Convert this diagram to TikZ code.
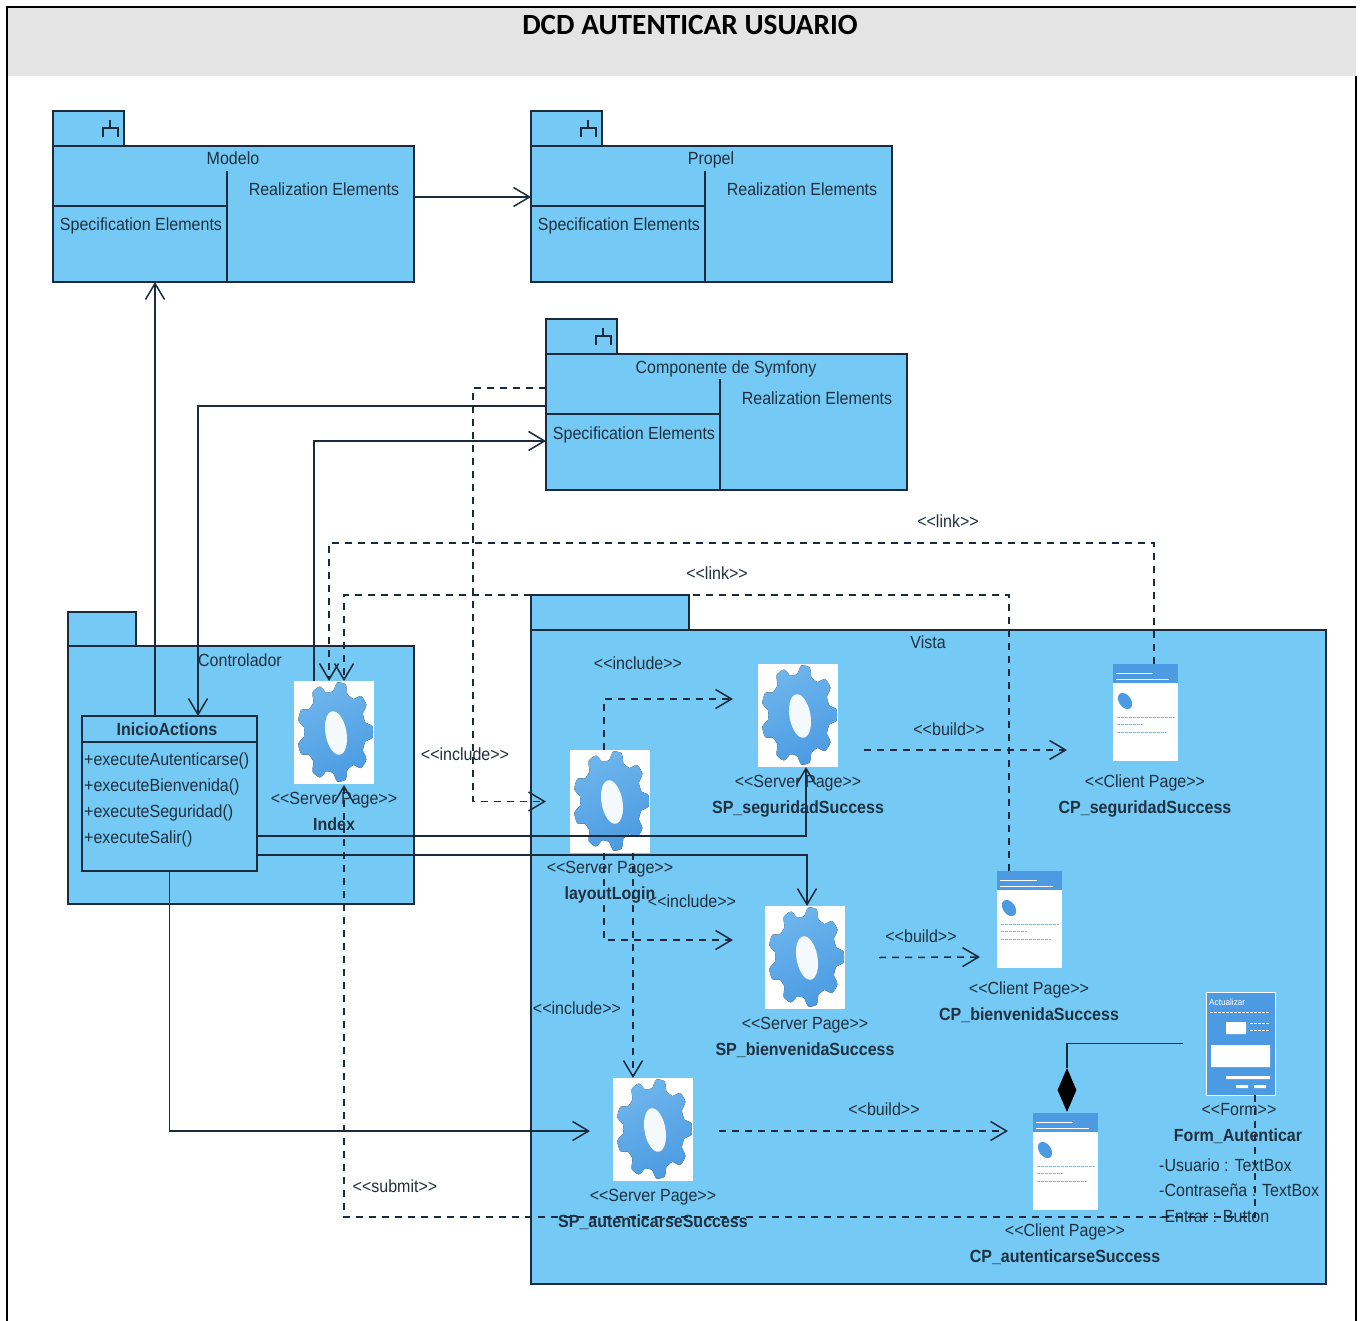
\documentclass[tikz,border=0pt]{standalone}
\usepackage{fontspec}
\setmainfont[FakeStretch=0.91]{Liberation Sans}
\newfontfamily\titlefont{Carlito}
\usetikzlibrary{arrows.meta,shapes.geometric}
\definecolor{pkgblue}{HTML}{74CAF4}
\definecolor{inkline}{HTML}{1B2A3C}
\definecolor{inktext}{HTML}{1F3040}
\definecolor{gearlight}{HTML}{6DB5EC}
\definecolor{geardark}{HTML}{4C9BE2}
\definecolor{headgray}{HTML}{E4E4E4}
\tikzset{
        pkgbody/.style={draw=inkline, fill=pkgblue, line width=1.5pt, anchor=north west, inner sep=0pt, outer sep=0pt},
        umlline/.style={draw=inkline, line width=1.5pt},
        lbl/.style={anchor=base, inner sep=0pt, text=inktext, font=\fontsize{17.6}{19}\selectfont},
        lblwest/.style={lbl, anchor=base west},
        boldlbl/.style={lbl, font=\fontsize{17.6}{19}\selectfont\bfseries},
        iconframe/.style={fill=white, anchor=north west, inner sep=0pt, outer sep=0pt},
        assoc/.style={umlline, -{Straight Barb[length=16pt,width=19pt]}},
        dep/.style={assoc, dash pattern=on 7pt off 6pt},
        framerule/.style={draw=black, line width=2.4pt},
        pics/subsystem/.style={code={
          \node[pkgbody, minimum width=71pt, minimum height=35pt] (tab) at (0,0) {};
          \node[pkgbody, minimum width=361pt, minimum height=136pt] (box) at (0,35) {};
          \draw[umlline] (0,95) -- (174,95) (174,60) -- (174,171);
          \draw[umlline] (57,9) -- (57,17) (50,26) -- (50,17) -- (65,17) -- (65,26);
          \node[lbl] (title) at (180,54) {#1};
          \node[lbl] (real) at (271,85) {Realization Elements};
          \node[lbl] (spec) at (88,120) {Specification Elements};
        }},
        pics/serverpage/.style={code={
          \node[iconframe, minimum width=80pt, minimum height=103pt] (frame) at (0,0) {};
          \fill[top color=gearlight, bottom color=geardark, shading angle=25]
            plot[smooth cycle, samples=108, domain=0:356.667]
            ({41+38*(.905+.095*max(-1,min(1,1.8*cos(9*\x))))*cos(\x)},{51+50*(.905+.095*max(-1,min(1,1.8*cos(9*\x))))*sin(\x)});
          \fill[white!92!gearlight, rotate around={10:(42,52)}] (42,52) ellipse [x radius=10.5pt, y radius=22pt];
          \node[lbl] (stereo) at (40,123) {<{}<Server Page>{}>};
          \node[boldlbl] (name) at (40,149) {#1};
        }},
        pics/clientpage/.style={code={
          \node[iconframe, minimum width=65pt, minimum height=97pt] (frame) at (0,0) {};
          \fill[geardark] (0,0) rectangle (65,19);
          \draw[white, line width=0.8pt] (3,9) -- (40,9) (3,15) -- (56,15);
          \fill[geardark, rotate around={35:(12,37)}] (12,37) ellipse [x radius=6pt, y radius=9pt];
          \draw[geardark!70!white, line width=1pt, dash pattern=on 3pt off 1pt] (4,53) -- (62,53) (4,60) -- (30,60) (4,68) -- (54,68);
          \node[lbl] (stereo) at (32,123) {<{}<Client Page>{}>};
          \node[boldlbl] (name) at (32,149) {#1};
        }},
}
\begin{document}
\begin{tikzpicture}[x=1pt, y=-1pt]
        \path[use as bounding box, fill=white] (0,0) rectangle (1364,1321);
        \fill[headgray] (7,7) rectangle (1356,76);
        \draw[framerule] (7,1322) -- (7,7) -- (1356,7);
        \draw[framerule] (1356,76) -- (1356,1322);
        \node[lbl, font=\fontsize{29.3}{31}\titlefont\bfseries, text=black] (header) at (690,35) {DCD AUTENTICAR USUARIO};

        \pic (modelo) at (53,111) {subsystem={Modelo}};
        \pic (propel) at (531,111) {subsystem={Propel}};
        \pic (symfony) at (546,319) {subsystem={Componente de Symfony}};

        \node[pkgbody, minimum width=68pt, minimum height=34pt] (ctrltab) at (68,612) {};
        \node[pkgbody, minimum width=346pt, minimum height=258pt] (ctrlbox) at (68,646) {};
        \node[lbl] (ctrlname) at (240,666) {Controlador};
        \node[pkgbody, minimum width=158pt, minimum height=35pt] (vistatab) at (531,595) {};
        \node[pkgbody, minimum width=795pt, minimum height=654pt] (vistabox) at (531,630) {};
        \node[lbl] (vistaname) at (928,648) {Vista};

        \node[pkgbody, minimum width=175pt, minimum height=155pt] (inicio) at (82,716) {};
        \draw[umlline] ([yshift=-26pt]inicio.north west) -- ([yshift=-26pt]inicio.north east);
        \node[boldlbl] (iniciotitle) at (167,735) {InicioActions};
        \node[lblwest] (metodoa) at (84,765) {+executeAutenticarse()};
        \node[lblwest] (metodob) at (84,791) {+executeBienvenida()};
        \node[lblwest] (metodoc) at (84,817) {+executeSeguridad()};
        \node[lblwest] (metodod) at (84,843) {+executeSalir()};

        \pic (index) at (294,681) {serverpage={Index}};
        \pic (layout) at (570,750) {serverpage={layoutLogin}};
        \pic (spseg) at (758,664) {serverpage={SP\_seguridadSuccess}};
        \pic (spbien) at (765,906) {serverpage={SP\_bienvenidaSuccess}};
        \pic (spaut) at (613,1078) {serverpage={SP\_autenticarseSuccess}};
        \pic (cpseg) at (1113,664) {clientpage={CP\_seguridadSuccess}};
        \pic (cpbien) at (997,871) {clientpage={CP\_bienvenidaSuccess}};
        \pic (cpaut) at (1033,1113) {clientpage={CP\_autenticarseSuccess}};

        \node[iconframe, fill=geardark, draw=white, line width=1pt, minimum width=69pt, minimum height=103pt] (form) at (1206,992) {};
        \node[anchor=west, inner sep=0pt, text=white, font=\fontsize{9}{10}\selectfont] (formcaption) at (1209,1002) {Actualizar};
        \fill[white] (1226,1022) rectangle (1246,1034) (1211,1045) rectangle (1270,1067);
        \fill[white] (1226,1076) rectangle (1270,1079) (1236,1085) rectangle (1248,1088) (1254,1085) rectangle (1266,1088);
        \draw[white, line width=0.8pt, dash pattern=on 3pt off 1pt] (1210,1012) -- (1270,1012) (1250,1023) -- (1270,1023) (1250,1030) -- (1270,1030);
        \node[lbl] (formstereo) at (1239,1115) {<{}<Form>{}>};
        \node[boldlbl] (formname) at (1238,1141) {Form\_Autenticar};
        \node[lblwest] (attra) at (1159,1171) {-Usuario : TextBox};
        \node[lblwest] (attrb) at (1159,1196) {-Contraseña : TextBox};
        \node[lblwest] (attrc) at (1159,1222) {-Entrar : Button};

        \coordinate (linkseg) at (700,543);
        \coordinate (linkbien) at (700,595);
        \coordinate (incsym) at (473,600);
        \coordinate (submitbend) at (800,1217);

        \draw[assoc] ([yshift=17pt]modelobox.east) -- ([yshift=17pt]propelbox.west);
        \draw[assoc] ([xshift=-14.5pt]inicio.north) -- ([xshift=-78.5pt]modelobox.south);
        \draw[assoc] ([yshift=16pt]symfonybox.west) -| ([xshift=28.5pt]inicio.north);
        \draw[assoc] ([xshift=-20pt]indexframe.north) |- ([yshift=-19pt]symfonybox.west);
        \draw[assoc] ([yshift=-42.5pt]inicio.east) -| ([xshift=8pt]spsegframe.south);
        \draw[assoc] ([yshift=-61.5pt]inicio.east) -| ([xshift=2pt]spbienframe.north);
        \draw[assoc] (inicio.south) |- ([xshift=-23pt,yshift=-1.5pt]spautframe.west);

        \draw[dep] ([xshift=8.5pt]cpsegframe.north) |- (linkseg) -| ([xshift=-5pt]indexframe.north);
        \draw[dep] ([xshift=-20.5pt]cpbienframe.north) |- (linkbien) -| ([xshift=10pt]indexframe.north);
        \draw[dep] ([yshift=34pt]symfonybox.west) -| (incsym) |- ([xshift=-24pt]layoutframe.west);
        \draw[dep] ([xshift=-6pt]layoutframe.north) |- ([xshift=-25pt,yshift=16.5pt]spsegframe.west);
        \draw[dep] ([xshift=-6pt]layoutframe.south) |- ([xshift=-32pt,yshift=17.5pt]spbienframe.west);
        \draw[dep] ([xshift=23pt]layoutframe.south) -- ([xshift=-20pt]spautframe.north);
        \draw[dep] ([xshift=26pt,yshift=-34.5pt]spsegframe.east) -- ([xshift=-46pt,yshift=-37.5pt]cpsegframe.west);
        \draw[dep] ([xshift=34pt]spbienframe.east) -- ([xshift=-17pt,yshift=-37.5pt]cpbienframe.west);
        \draw[dep] ([xshift=26pt,yshift=-1.5pt]spautframe.east) -- ([xshift=-25pt,yshift=30.5pt]cpautframe.west);
        \draw[dep] ([xshift=14.5pt]form.south) |- (submitbend) -| ([xshift=10pt,yshift=-1pt]indexframe.south);

        \node[diamond, fill=black, aspect=0.43, inner sep=0pt, minimum width=19pt, minimum height=44pt] (compdiamond) at (1067,1090) {};
        \draw[umlline] ([xshift=-23pt]form.west) -| (compdiamond.north);

        \node[lbl] (linklabela) at (948,527) {<{}<link>{}>};
        \node[lbl] (linklabelb) at (717,579) {<{}<link>{}>};
        \node[lbl] (inclabela) at (465,760) {<{}<include>{}>};
        \node[lbl] (inclabelb) at (638,669) {<{}<include>{}>};
        \node[lbl] (inclabelc) at (692,907) {<{}<include>{}>};
        \node[lbl] (inclabeld) at (577,1014) {<{}<include>{}>};
        \node[lbl] (buildlabela) at (949,735) {<{}<build>{}>};
        \node[lbl] (buildlabelb) at (921,942) {<{}<build>{}>};
        \node[lbl] (buildlabelc) at (884,1115) {<{}<build>{}>};
        \node[lbl] (submitlabel) at (395,1192) {<{}<submit>{}>};
      \end{tikzpicture}
\end{document}
